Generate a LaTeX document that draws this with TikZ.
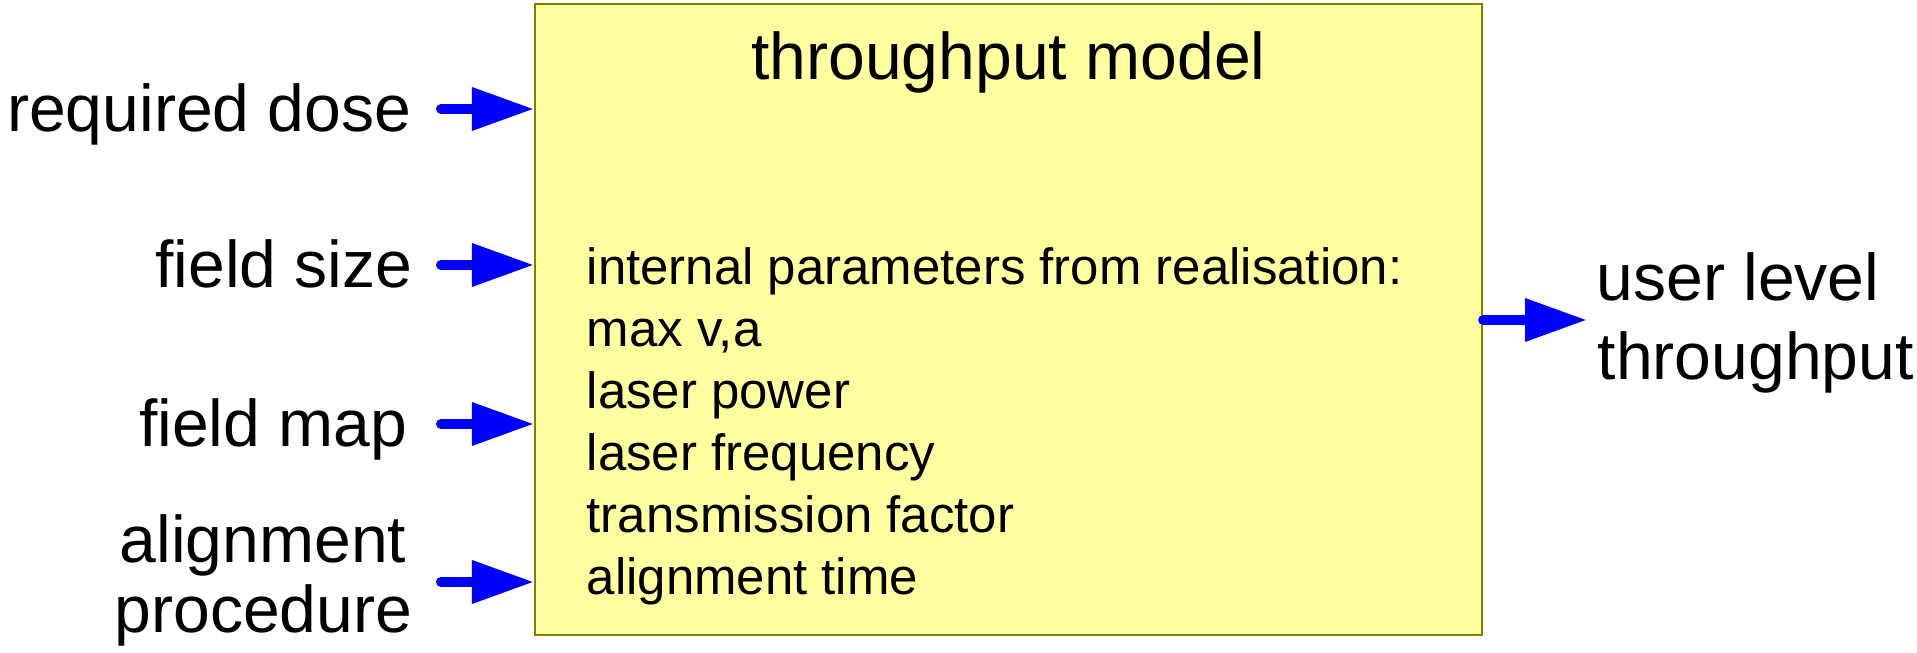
\documentclass[tikz,border=0pt]{standalone}
\usepackage{fontspec}
\setmainfont{Liberation Sans}
\usetikzlibrary{arrows.meta}
\definecolor{boxfill}{RGB}{255,255,160}
\definecolor{boxline}{RGB}{128,128,0}
\begin{document}
\begin{tikzpicture}[
	flow/.style={draw=blue,line width=0.1cm,line cap=round,-{Triangle[length=0.62cm,width=0.41cm]}},
	biglabel/.style={inner sep=0pt,font=\fontsize{18.8}{18.5}\selectfont},
	smalllabel/.style={inner sep=0pt,font=\fontsize{14.5}{17.6}\selectfont}]
	\useasboundingbox (0,0) rectangle (19.17,6.53);
	% kasten des modells
	\node[draw=boxline,fill=boxfill,line width=0.6pt,minimum width=9.47cm,minimum height=6.31cm,inner sep=0pt] (model) at (10.085,3.335) {};
	\node[biglabel,anchor=base] (title) at (10.085,5.73) {throughput model};
	\foreach \txt [count=\i] in {internal parameters from realisation:,{max v,a},laser power,laser frequency,transmission factor,alignment time}
		\node[smalllabel,anchor=base west] (param\i) at (5.86,{4.30-0.62*\i}) {\txt};
	% eingaenge links
	\node[biglabel,anchor=base east] (dose) at (4.12,5.21) {required dose};
	\node[biglabel,anchor=base east] (size) at (4.13,3.65) {field size};
	\node[biglabel,anchor=base east] (map) at (4.08,2.06) {field map};
	\node[biglabel,anchor=base west] (align) at (1.19,0.90) {alignment};
	\node[biglabel,anchor=base west] (proc) at (1.14,0.20) {procedure};
	\foreach \y [count=\i] in {5.44,3.88,2.29,0.71} {
		\coordinate (in\i) at (4.41,\y);
		\draw[flow] (in\i) -- (in\i -| model.west);
	}
	% ausgang rechts
	\node[biglabel,anchor=base west] (user) at (15.96,3.52) {user level};
	\node[biglabel,anchor=base west] (tput) at (15.97,2.73) {throughput};
	\coordinate (out) at (15.87,3.33);
	\draw[flow] (out -| model.east) -- (out);
\end{tikzpicture}
\end{document}
